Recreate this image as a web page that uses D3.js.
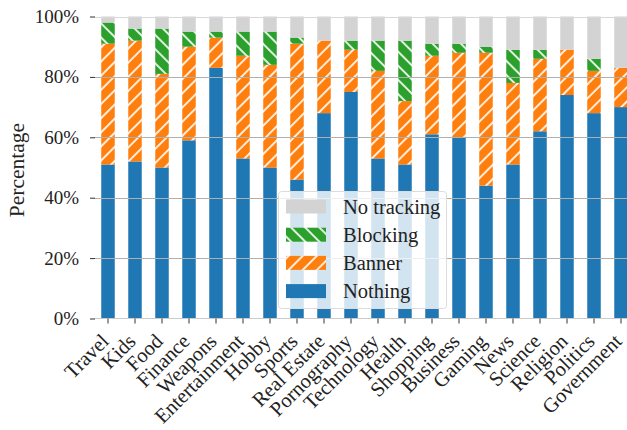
<!DOCTYPE html>
<html><head><meta charset="utf-8">
<script src="https://cdn.jsdelivr.net/npm/d3@7/dist/d3.min.js"></script>
<style>body{margin:0;background:#fff}svg{display:block}
svg text{font-family:"Liberation Serif","DejaVu Serif",serif !important;}
</style>
</head><body>
<script>
const categories = ["Travel","Kids","Food","Finance","Weapons","Entertainment","Hobby","Sports","Real Estate","Pornography","Technology","Health","Shopping","Business","Gaming","News","Science","Religion","Politics","Government"];
const nothing  = [51,52,50,59,83,53,50,46,68,75,53,51,61,60,44,51,62,74,68,70];
const banner   = [40,40,31,31,10,34,34,45,24,14,29,21,26,28,44,27,24,15,14,13];
const blocking = [7,4,15,5,2,8,11,2,0,3,10,20,4,3,2,11,3,0,4,0];
const noTracking = categories.map((c,i)=>100-nothing[i]-banner[i]-blocking[i]);
const seriesNames = ["Nothing","Banner","Blocking","No tracking"];
const yTicks = [0,20,40,60,80,100];

const W=627,H=430;
const svg=d3.select("body").append("svg").attr("width",W).attr("height",H);
const defs=svg.append("defs");
function hatch(id,color,angle){
  const p=defs.append("pattern").attr("id",id).attr("patternUnits","userSpaceOnUse")
    .attr("width",10).attr("height",10).attr("patternTransform",`rotate(${angle})`);
  p.append("rect").attr("width",10).attr("height",10).attr("fill",color);
  p.append("line").attr("x1",5).attr("x2",5).attr("y1",0).attr("y2",10).attr("stroke","#fff").attr("stroke-width",1.7);
}
hatch("hBanner","#ff7f0e",45);
hatch("hBlock","#2ca02c",-45);
const fills={"Nothing":"#1f77b4","Banner":"url(#hBanner)","Blocking":"url(#hBlock)","No tracking":"#d3d3d3"};

const x=d3.scaleBand().domain(categories).range([94.5,634.5]).paddingInner(0.5).paddingOuter(0.25);
const y=d3.scaleLinear().domain([0,100]).range([318.5,16.5]);

const rows=categories.map((c,i)=>({cat:c,"Nothing":nothing[i],"Banner":banner[i],"Blocking":blocking[i],"No tracking":noTracking[i]}));
const stack=d3.stack().keys(seriesNames)(rows);

const g=svg.append("g");
stack.forEach(s=>{
  g.append("g").selectAll("rect").data(s).join("rect")
   .attr("x",d=>x(d.data.cat)).attr("width",x.bandwidth())
   .attr("y",d=>y(d[1])).attr("height",d=>Math.max(0,y(d[0])-y(d[1])))
   .attr("fill",fills[s.key]);
});

// grid
svg.append("g").selectAll("line").data(yTicks.filter(t=>t>0)).join("line")
  .attr("x1",94.5).attr("x2",W).attr("y1",d=>Math.round(y(d))+0.5).attr("y2",d=>Math.round(y(d))+0.5)
  .attr("stroke",d=>d===100?"#d8d8d8":"#b0b0b0").attr("stroke-width",1);

// bottom spine
svg.append("line").attr("x1",94.5).attr("x2",W).attr("y1",318.5).attr("y2",318.5).attr("stroke","#cccccc").attr("stroke-width",1);

// y axis
const ya=svg.append("g").attr("transform","translate(95,0)")
  .call(d3.axisLeft(y).tickValues(yTicks).tickFormat(d=>d+"%").tickSize(5).tickPadding(11));
ya.select(".domain").remove();
ya.selectAll(".tick line").attr("stroke","#333");
ya.selectAll("text").attr("font-size",19).attr("fill","#222");

// x axis
const xa=svg.append("g").attr("transform","translate(0,318.5)")
  .call(d3.axisBottom(x).tickSize(5).tickSizeOuter(0));
xa.select(".domain").remove();
xa.selectAll(".tick line").attr("stroke","#333");
xa.selectAll("text").attr("font-size",20.5).attr("fill","#222")
  .attr("text-anchor","end").attr("dy",0).attr("y",0)
  .attr("transform","translate(2,24) rotate(-45)");

// y label
svg.append("text").attr("transform","translate(24,170) rotate(-90)").attr("text-anchor","middle")
  .attr("font-size",21.5).attr("fill","#222").text("Percentage");

// legend
const lg=svg.append("g");
lg.append("rect").attr("x",278.5).attr("y",191.5).attr("width",168).attr("height",117).attr("rx",3)
  .attr("fill","#fff").attr("fill-opacity",0.8).attr("stroke","#dcdcdc");
const legendOrder=["No tracking","Blocking","Banner","Nothing"];
legendOrder.forEach((k,i)=>{
  const cy=206.5+i*28.2;
  lg.append("rect").attr("x",286).attr("y",cy-7).attr("width",40).attr("height",14).attr("fill",fills[k]);
  lg.append("text").attr("x",343).attr("y",cy).attr("dy","0.35em")
    .attr("font-size",20.5).attr("fill","#222").text(k);
});
</script>
</body></html>
